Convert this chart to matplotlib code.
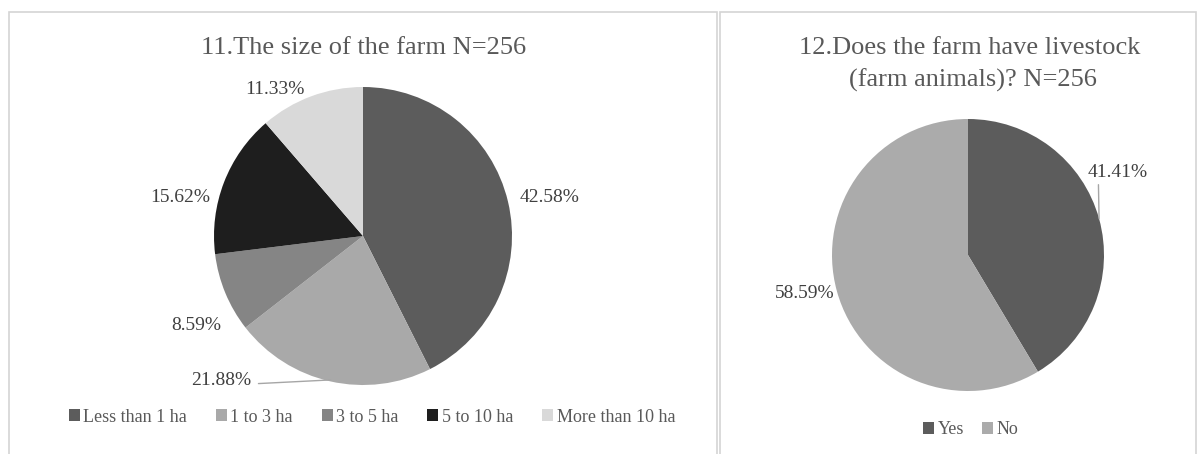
import numpy as np
import matplotlib
matplotlib.use("Agg")
import matplotlib.pyplot as plt
from matplotlib.patches import Rectangle

plt.rcParams['font.family'] = ['Liberation Serif', 'DejaVu Serif']

# data
size_labels = ['Less than 1 ha', '1 to 3 ha', '3 to 5 ha', '5 to 10 ha', 'More than 10 ha']
size_pct = [42.58, 21.88, 8.59, 15.62, 11.33]
size_colors = ['#5c5c5c', '#a9a9a9', '#858585', '#1e1e1e', '#d9d9d9']

stock_labels = ['Yes', 'No']
stock_pct = [41.41, 58.59]
stock_colors = ['#5c5c5c', '#ababab']

W, H = 1202, 454
fig = plt.figure(figsize=(W / 100, H / 100), dpi=100)


def box(cx, cy, r):
    """axes rect (figure fraction) for a pie centred at pixel cx, cy"""
    return [(cx - r) / W, (H - cy - r) / H, 2 * r / W, 2 * r / H]


def fx(px):
    return px / W


def fy(py):
    return 1 - py / H


# panel frames
for x0, x1 in [(9, 717), (720, 1196)]:
    fig.add_artist(Rectangle((fx(x0), fy(470)), fx(x1) - fx(x0), fy(12) - fy(470),
                             transform=fig.transFigure, fill=False,
                             edgecolor='#d4d4d4', lw=1.2))

txt_col = '#404040'

# ---- left pie
ax1 = fig.add_axes(box(363, 236, 149))
w1, _ = ax1.pie(size_pct, colors=size_colors, startangle=90, counterclock=False,
                radius=1)
ax1.set_xlim(-1, 1)
ax1.set_ylim(-1, 1)
ax1.axis('off')

# label anchors in pie-radius units
pos1 = [(1.25, 0.26), (-0.95, -0.97), (-1.12, -0.60), (-1.23, 0.26), (-0.59, 0.98)]
for wdg, v, (lx, ly) in zip(w1, size_pct, pos1):
    mid = np.deg2rad((wdg.theta1 + wdg.theta2) / 2)
    lbl = '%.2f%%' % v
    if v == 21.88:
        ax1.annotate(lbl, xy=(np.cos(mid) * 0.99, np.sin(mid) * 0.99), xytext=(lx, ly),
                     ha='center', va='center', fontsize=14, color=txt_col,
                     annotation_clip=False,
                     arrowprops=dict(arrowstyle='-', color='#a6a6a6', lw=1,
                                     relpos=(1.0, 0.3), shrinkA=3, shrinkB=0))
    else:
        ax1.text(lx, ly, lbl, ha='center', va='center', fontsize=14, color=txt_col,
                 clip_on=False)

fig.text(fx(364), fy(48), '11.The size of the farm N=256', ha='center', va='center',
         fontsize=19, color='#595959')

fig.legend(w1, size_labels, loc='center', bbox_to_anchor=(fx(372), fy(417)), ncol=5,
           frameon=False, fontsize=13, handlelength=0.6, handleheight=0.6,
           handletextpad=0.2, columnspacing=1.6, labelcolor='#595959')

# ---- right pie
ax2 = fig.add_axes(box(968, 255, 136))
w2, _ = ax2.pie(stock_pct, colors=stock_colors, startangle=90, counterclock=False,
                radius=1)
ax2.set_xlim(-1, 1)
ax2.set_ylim(-1, 1)
ax2.axis('off')

pos2 = [(1.10, 0.61), (-1.20, -0.28)]
for wdg, v, (lx, ly) in zip(w2, stock_pct, pos2):
    mid = np.deg2rad((wdg.theta1 + wdg.theta2) / 2)
    lbl = '%.2f%%' % v
    if v == 41.41:
        ax2.annotate(lbl, xy=(np.cos(mid), np.sin(mid)), xytext=(lx, ly),
                     ha='center', va='center', fontsize=14, color=txt_col,
                     annotation_clip=False,
                     arrowprops=dict(arrowstyle='-', color='#a6a6a6', lw=1,
                                     relpos=(0.18, 0.0), shrinkA=1, shrinkB=0))
    else:
        ax2.text(lx, ly, lbl, ha='center', va='center', fontsize=14, color=txt_col,
                 clip_on=False)

fig.text(fx(970), fy(48), '12.Does the farm have livestock', ha='center', va='center',
         fontsize=19, color='#595959')
fig.text(fx(973), fy(80), '(farm animals)? N=256', ha='center', va='center',
         fontsize=19, color='#595959')

fig.legend(w2, stock_labels, loc='center', bbox_to_anchor=(fx(971), fy(430)), ncol=2,
           frameon=False, fontsize=13, handlelength=0.6, handleheight=0.6,
           handletextpad=0.2, columnspacing=1.0, labelcolor='#595959')

fig.savefig('out.png', dpi=100)
